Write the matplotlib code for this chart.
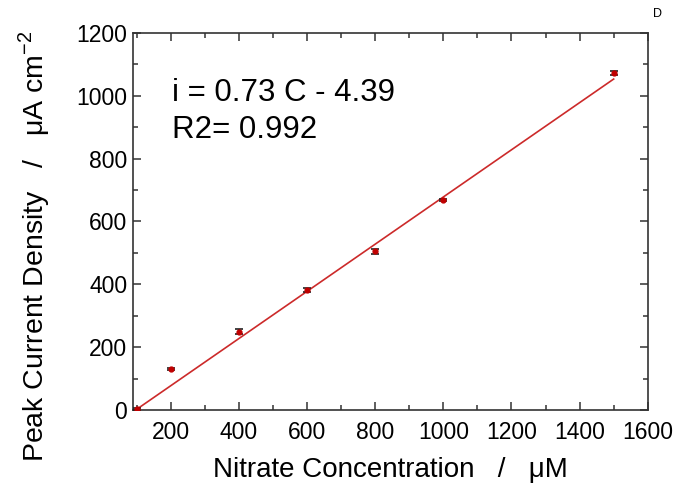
import numpy as np
import matplotlib.pyplot as plt
from matplotlib.ticker import MultipleLocator

plt.rcParams['font.family'] = ['Liberation Sans', 'DejaVu Sans']
plt.rcParams['mathtext.fontset'] = 'custom'
plt.rcParams['mathtext.rm'] = 'Liberation Sans'

# measured points
conc = [100, 200, 400, 600, 800, 1000, 1500]
current = [5, 131, 249, 381, 506, 668, 1072]
current_err = [3, 4, 8, 6, 8, 4, 6]

# linear fit as drawn on the chart
fit_x = [100, 1500]
fit_slope = 0.75
fit_intercept = -72

eq_text = "i = 0.73 C - 4.39"
r2_text = "R2= 0.992"

fig = plt.figure(figsize=(6.74, 4.90), dpi=100)
ax = fig.add_axes([0.197, 0.163, 0.764, 0.770])

fx = np.array(fit_x)
ax.plot(fx, fit_slope * fx + fit_intercept, color='#cc2a2a', lw=1.2, zorder=2)
ax.errorbar(conc, current, yerr=current_err, fmt='o', ms=3.5,
            color='#c00000', ecolor='#222222', elinewidth=1.2,
            capsize=3, capthick=1.2, zorder=3)

ax.set_xlim(88, 1600)
ax.set_ylim(0, 1200)
ax.xaxis.set_major_locator(MultipleLocator(200))
ax.xaxis.set_minor_locator(MultipleLocator(100))
ax.yaxis.set_major_locator(MultipleLocator(200))
ax.yaxis.set_minor_locator(MultipleLocator(100))
ax.tick_params(which='both', direction='in', top=True, right=True,
               width=1.1, color='#333333')
ax.tick_params(which='major', length=6, labelsize=16.5)
ax.tick_params(axis='x', which='major', pad=8)
ax.tick_params(axis='y', which='major', pad=4)
ax.tick_params(which='minor', length=3.5)
for s in ax.spines.values():
    s.set_linewidth(1.2)
    s.set_color('#333333')

ax.set_xlabel("Nitrate Concentration   /   \u03bcM", fontsize=20)
ax.xaxis.set_label_coords(0.5, -0.125)
ax.set_ylabel("Peak Current Density   /   \u03bcA cm$^{\\mathrm{-2}}$", fontsize=20.5)
ax.yaxis.set_label_coords(-0.157, 0.435)

ax.text(0.076, 0.84, eq_text, transform=ax.transAxes, fontsize=22.5, va='center')
ax.text(0.076, 0.742, r2_text, transform=ax.transAxes, fontsize=22.5, va='center')
fig.text(0.976, 0.972, "D", fontsize=9, ha='center', va='center')

fig.savefig("out.png", dpi=100)
